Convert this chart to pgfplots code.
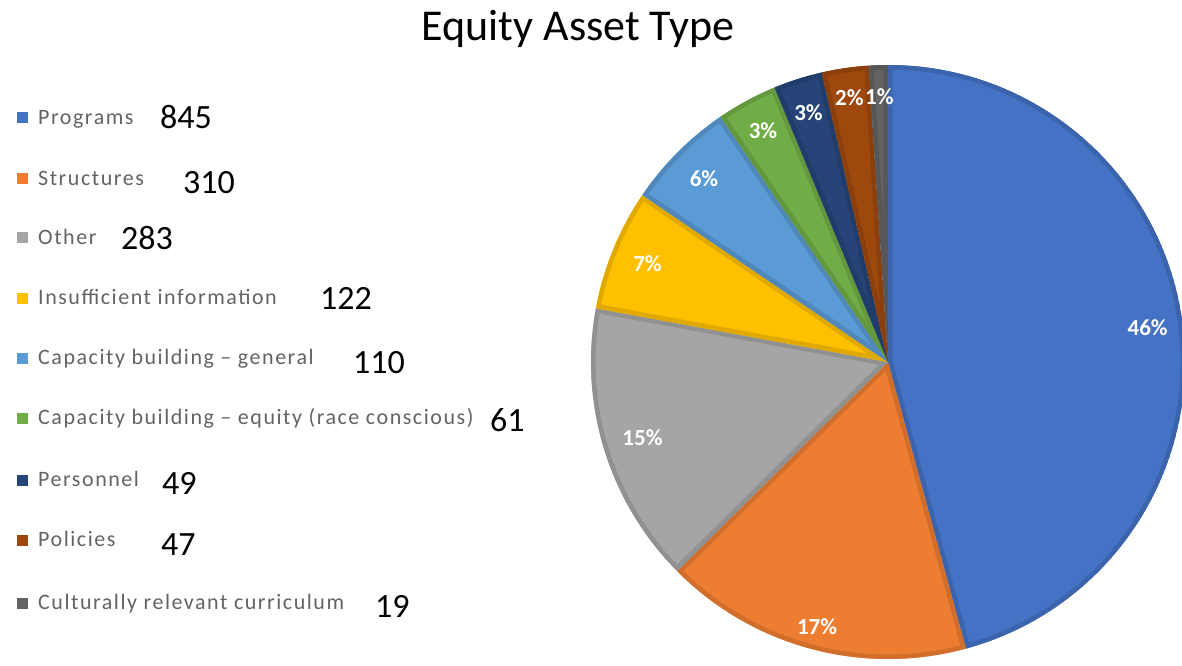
\documentclass[border=0pt]{standalone}
\usepackage{fontspec}
\setmainfont{Carlito}
\newfontfamily\legfont[LetterSpace=7]{Carlito}
\usepackage{pgfplots}
\usepackage{pgfplotstable}
\pgfplotsset{compat=1.18}
\definecolor{c0}{HTML}{4472C4}
\definecolor{c1}{HTML}{ED7D31}
\definecolor{c2}{HTML}{A5A5A5}
\definecolor{c3}{HTML}{FFC000}
\definecolor{c4}{HTML}{5B9BD5}
\definecolor{c5}{HTML}{70AD47}
\definecolor{c6}{HTML}{264478}
\definecolor{c7}{HTML}{9E480E}
\definecolor{c8}{HTML}{636363}
\definecolor{legtext}{HTML}{636363}

% name, count, shown percentage, label radius, legend row (px from top), x of count, y of count
\pgfplotstableread[col sep=comma]{
name,count,pct,lr,ly,cx,cy
Programs,845,46,262,118,160,118
Structures,310,17,274,179,183,183
Other,283,15,257,238,121,238
Insufficient information,122,7,260,298,320,298
Capacity building – general,110,6,260,358,353,362
Capacity building – equity (race conscious),61,3,263,418,490,420
Personnel,49,3,262,480,162,483
Policies,47,2,267,540,161,544
Culturally relevant curriculum,19,1,265,603,375,606
}\datatable

\begin{document}
\begin{tikzpicture}
\pgfmathsetmacro\total{0}
\pgfplotsforeachungrouped \i in {0,...,8}{%
  \pgfplotstablegetelem{\i}{count}\of\datatable
  \pgfmathsetmacro\total{\total+\pgfplotsretval}%
}
\begin{axis}[
  scale only axis, width=1182pt, height=665pt,
  xmin=0, xmax=1182, ymin=0, ymax=665,
  hide axis, clip=true,
]
\addplot[draw=none] coordinates {(0,0) (1182,665)};
\node[anchor=base, font=\fontsize{44}{50}\selectfont] at (axis cs:578,624) {Equity Asset Type};
\pgfmathsetmacro\cum{0}
\pgfplotsforeachungrouped \i in {0,...,8}{%
  \pgfplotstablegetelem{\i}{count}\of\datatable \let\cnt\pgfplotsretval
  \pgfplotstablegetelem{\i}{pct}\of\datatable \let\pct\pgfplotsretval
  \pgfplotstablegetelem{\i}{lr}\of\datatable \let\lr\pgfplotsretval
  \pgfplotstablegetelem{\i}{name}\of\datatable \let\nm\pgfplotsretval
  \pgfplotstablegetelem{\i}{ly}\of\datatable \let\ly\pgfplotsretval
  \pgfplotstablegetelem{\i}{cx}\of\datatable \let\cx\pgfplotsretval
  \pgfplotstablegetelem{\i}{cy}\of\datatable \let\cy\pgfplotsretval
  \pgfmathsetmacro\frac{\cnt/\total}%
  \pgfmathsetmacro\spn{360*\frac}%
  \pgfmathsetmacro\aS{90-\cum}%
  \pgfmathsetmacro\aE{90-\cum-\spn}%
  \pgfmathsetmacro\aM{90-\cum-\spn/2}%
  \pgfmathsetmacro\sqy{665-\ly-5.5}%
  \pgfmathsetmacro\tby{665-\ly-6.5}%
  \pgfmathsetmacro\cby{665-\cy-11}%
  \pgfmathtruncatemacro\cnti{\cnt}%
  \pgfmathtruncatemacro\pcti{\pct}%
  \edef\temp{%
    \noexpand\begin{scope}
    \noexpand\clip (axis cs:888,303) -- ++(\aS:297pt) arc[start angle=\aS, end angle=\aE, radius=297pt] -- cycle;
    \noexpand\filldraw[fill=c\i, draw=c\i!88!black, line width=9pt, line join=round]
      (axis cs:888,303) -- ++(\aS:297pt) arc[start angle=\aS, end angle=\aE, radius=297pt] -- cycle;
    \noexpand\end{scope}
    \noexpand\node[text=white, font=\noexpand\bfseries\noexpand\fontsize{23}{23}\noexpand\selectfont]
      at ([shift={(\aM:\lr pt)}]axis cs:888,303) {\pcti\noexpand\%};
    \noexpand\fill[c\i] (axis cs:17,\sqy) rectangle ++(11pt,11pt);
    \noexpand\node[anchor=base west, inner sep=0pt, text=legtext, font=\noexpand\legfont\noexpand\fontsize{22}{24}\noexpand\selectfont]
      at (axis cs:38,\tby) {\nm};
    \noexpand\node[anchor=base west, inner sep=0pt, font=\noexpand\fontsize{34}{36}\noexpand\selectfont]
      at (axis cs:\cx,\cby) {\cnti};
  }%
  \temp
  \pgfmathsetmacro\cum{\cum+\spn}%
}
\end{axis}
\end{tikzpicture}
\end{document}
